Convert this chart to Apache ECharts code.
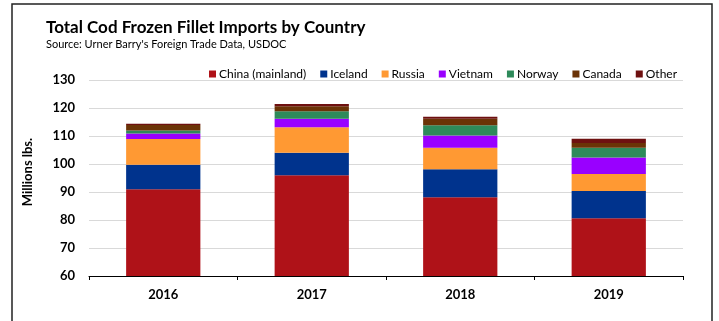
<!DOCTYPE html>
<html>
<head>
<meta charset="utf-8">
<script src="https://cdn.jsdelivr.net/npm/echarts@6/dist/echarts.min.js"></script>
<style>
  html, body { margin: 0; padding: 0; background: #fff; }
  #chart { width: 719px; height: 321px; }
</style>
</head>
<body>
<div id="chart"></div>
<script>
// data (millions lbs.)
const years = ['2016', '2017', '2018', '2019']
const china = [91.0, 96.0, 88.1, 80.6]
const iceland = [8.7, 8.0, 10.0, 9.8]
const russia = [9.2, 9.1, 7.7, 6.0]
const vietnam = [2.0, 3.1, 4.4, 5.9]
const norway = [1.1, 2.6, 3.6, 3.5]
const canada = [1.9, 1.8, 2.4, 1.7]
const other = [0.5, 0.8, 0.7, 1.5]

const FONT = 'Lato, "Open Sans", sans-serif'

const seriesDefs = [
  { name: 'China (mainland)', data: china, color: '#AF1218' },
  { name: 'Iceland', data: iceland, color: '#00338D' },
  { name: 'Russia', data: russia, color: '#FF9933' },
  { name: 'Vietnam', data: vietnam, color: '#9900FF' },
  { name: 'Norway', data: norway, color: '#2E8A5A' },
  { name: 'Canada', data: canada, color: '#6B3306' },
  { name: 'Other', data: other, color: '#6E1010' }
]

const chart = echarts.init(document.getElementById('chart'))

chart.setOption({
  animation: false,
  textStyle: { fontFamily: FONT },
  title: {
    text: 'Total Cod Frozen Fillet Imports by Country',
    subtext: "Source: Urner Barry's Foreign Trade Data, USDOC",
    left: 41,
    top: 14,
    itemGap: 3,
    textStyle: { fontFamily: FONT, fontSize: 17, fontWeight: 'bold', color: '#000' },
    subtextStyle: { fontFamily: FONT, fontSize: 11, color: '#000' }
  },
  legend: {
    left: 204,
    top: 63,
    itemWidth: 7,
    itemHeight: 7,
    itemGap: 14,
    icon: 'rect',
    textStyle: { fontFamily: FONT, fontSize: 12, color: '#000', padding: [0, 0, 0, -2] },
    data: seriesDefs.map(s => s.name)
  },
  grid: { left: 89, right: 36, top: 80, bottom: 45 },
  xAxis: {
    type: 'category',
    data: years,
    axisLine: { lineStyle: { color: '#000', width: 1 } },
    axisTick: { show: true, length: 4, lineStyle: { color: '#000' } },
    axisLabel: { fontFamily: FONT, fontSize: 13, fontWeight: 'bold', color: '#000', margin: 12 }
  },
  yAxis: {
    type: 'value',
    min: 60,
    max: 130,
    interval: 10,
    axisLine: { show: false },
    axisTick: { show: false },
    axisLabel: { fontFamily: FONT, fontSize: 13, fontWeight: 'bold', color: '#000', margin: 14 },
    splitLine: { lineStyle: { color: '#d9d9d9', width: 1 } }
  },
  graphic: [
    {
      type: 'rect',
      shape: { x: 12, y: 4, width: 700, height: 330 },
      style: { fill: 'none', stroke: '#222', lineWidth: 1.5 },
      silent: true
    },
    {
      type: 'text',
      x: 28,
      y: 172,
      rotation: Math.PI / 2,
      style: {
        text: 'Millions lbs.',
        fontFamily: FONT,
        fontSize: 13,
        fontWeight: 'bold',
        fill: '#000',
        align: 'center',
        verticalAlign: 'middle'
      }
    }
  ],
  series: seriesDefs.map(s => ({
    name: s.name,
    type: 'bar',
    stack: 'total',
    barWidth: '50%',
    data: s.data,
    itemStyle: { color: s.color }
  }))
})
</script>
</body>
</html>
